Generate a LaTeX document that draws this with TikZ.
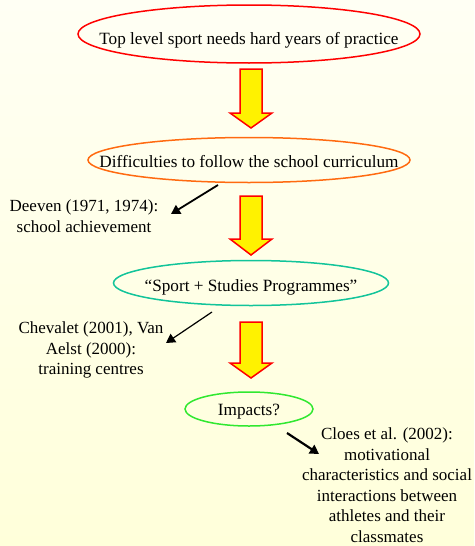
\documentclass[tikz,border=0pt]{standalone}
\usepackage{fontspec}
\setmainfont{Liberation Serif}
\usetikzlibrary{arrows.meta}

\definecolor{bgtop}{HTML}{FFFFF4}
\definecolor{bgbottom}{HTML}{FFFFDA}
\definecolor{stageorange}{HTML}{FF6A10}
\definecolor{stageteal}{HTML}{12C49A}
\definecolor{stagegreen}{HTML}{30E830}

\tikzset{
    stage/.style={inner sep=0pt, font=\fontsize{17.2}{20}\selectfont},
    ring/.style={line width=1.5pt},
    note/.style={align=center, font=\fontsize{17}{20.5}\selectfont},
    pointer/.style={-{Triangle[length=9pt,width=10pt]}, line width=1.8pt}
}

\begin{document}
\begin{tikzpicture}[x=1pt, y=-1pt]
    \path [top color=bgtop, bottom color=bgbottom] (0,0) rectangle (474,546);
    \useasboundingbox (0,0) rectangle (474,546);

    % the four stages
    \node [stage] (top) at (249,40) {Top level sport needs hard years of practice};
    \draw [ring, red] ([yshift=6pt]top.center) ellipse [x radius=171, y radius=29];
    \node [stage] (diff) at (249,162) {Difficulties to follow the school curriculum};
    \draw [ring, stageorange] ([yshift=2pt]diff.center) ellipse [x radius=161, y radius=22.5];
    \node [stage] (prog) at (251,287) {``Sport + Studies Programmes''};
    \draw [ring, stageteal] ([yshift=4pt]prog.center) ellipse [x radius=137.5, y radius=22.5];
    \node [stage] (impact) at (249,412) {Impacts?};
    \draw [ring, stagegreen] ([yshift=3pt]impact.center) ellipse [x radius=64, y radius=17];

    % yellow block arrows between the stages
    \foreach \ytop/\yhead/\ytip in {69/113/128, 196/239/255, 322/363/378} {
        \path [fill=yellow, draw=red, line width=1.5pt, line join=miter]
            (240,\ytop)--(262,\ytop)--(262,\yhead)--(272,\yhead)--(251,\ytip)--(230,\yhead)--(240,\yhead)--cycle;
    }

    % references
    \node [note] (deeven) at (84,216) {Deeven (1971, 1974):\\school achievement};
    \node [note] (chevalet) at (91,350) {Chevalet (2001), Van\\Aelst (2000):\\training centres};
    \node [note] (cloes) at (387,485) {Cloes et al. (2002):\\motivational\\characteristics and social\\interactions between\\athletes and their\\classmates};

    \coordinate (deevenfrom) at (218,185);
    \coordinate (deevento) at (171,214);
    \coordinate (chevaletfrom) at (212,312);
    \coordinate (chevaletto) at (166,343);
    \coordinate (cloesfrom) at (287,433);
    \coordinate (cloesto) at (319,454);

    \draw [pointer] (deevenfrom) -- (deevento);
    \draw [pointer, line width=1.2pt] (chevaletfrom) -- (chevaletto);
    \draw [pointer, line width=2.2pt] (cloesfrom) -- (cloesto);
\end{tikzpicture}
\end{document}
